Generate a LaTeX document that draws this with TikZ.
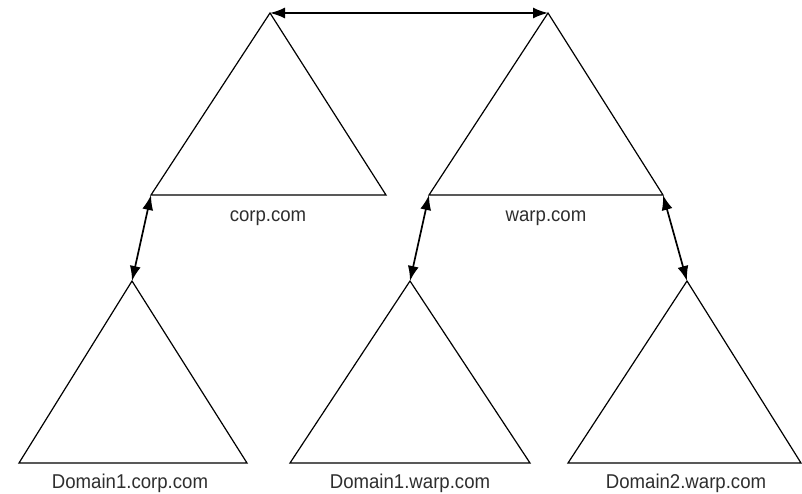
\documentclass[tikz,border=0pt]{standalone}
\usepackage{fontspec}
\setmainfont{Liberation Sans}[FakeStretch=0.93]
\usetikzlibrary{arrows.meta}
\definecolor{txt}{HTML}{2E2E2E}
\begin{document}
\begin{tikzpicture}[x=1pt,y=-1pt,
  tri/.style={draw=black,line width=1.2pt,line join=miter},
  link/.style={draw=black,line width=1.7pt,{Latex[length=15pt,width=11pt]}-{Latex[length=15pt,width=11pt]}},
  lbl/.style={text=txt,font=\fontsize{20}{22}\selectfont,inner sep=0pt,anchor=base}]
\useasboundingbox (0,0) rectangle (802,494);
% top-left triangle corp.com
\coordinate (ca) at (270,13);
\coordinate (cl) at (151,195);
\coordinate (cr) at (386,195);
% top-right triangle warp.com
\coordinate (wa) at (548,13);
\coordinate (wl) at (429,195);
\coordinate (wr) at (663,195);
% bottom triangles
\coordinate (da) at (132,281);
\coordinate (dl) at (19,463);
\coordinate (dr) at (247,463);
\coordinate (ea) at (410,281);
\coordinate (el) at (290,463);
\coordinate (er) at (530,463);
\coordinate (fa) at (687,281);
\coordinate (fl) at (568,463);
\coordinate (fr) at (801,463);
\draw[tri] (ca) -- (cl) -- (cr) -- cycle;
\draw[tri] (wa) -- (wl) -- (wr) -- cycle;
\draw[tri] (da) -- (dl) -- (dr) -- cycle;
\draw[tri] (ea) -- (el) -- (er) -- cycle;
\draw[tri] (fa) -- (fl) -- (fr) -- cycle;
\draw[link] (ca) -- (wa);
\draw[link] (cl) -- (da);
\draw[link] (wl) -- (ea);
\draw[link] (wr) -- (fa);
\node[lbl] (lc) at (268,222) {corp.com};
\node[lbl] (lw) at (546,222) {warp.com};
\node[lbl] (ld1) at (130,488) {Domain1.corp.com};
\node[lbl] (ld2) at (410,488) {Domain1.warp.com};
\node[lbl] (ld3) at (686,488) {Domain2.warp.com};
\end{tikzpicture}
\end{document}
